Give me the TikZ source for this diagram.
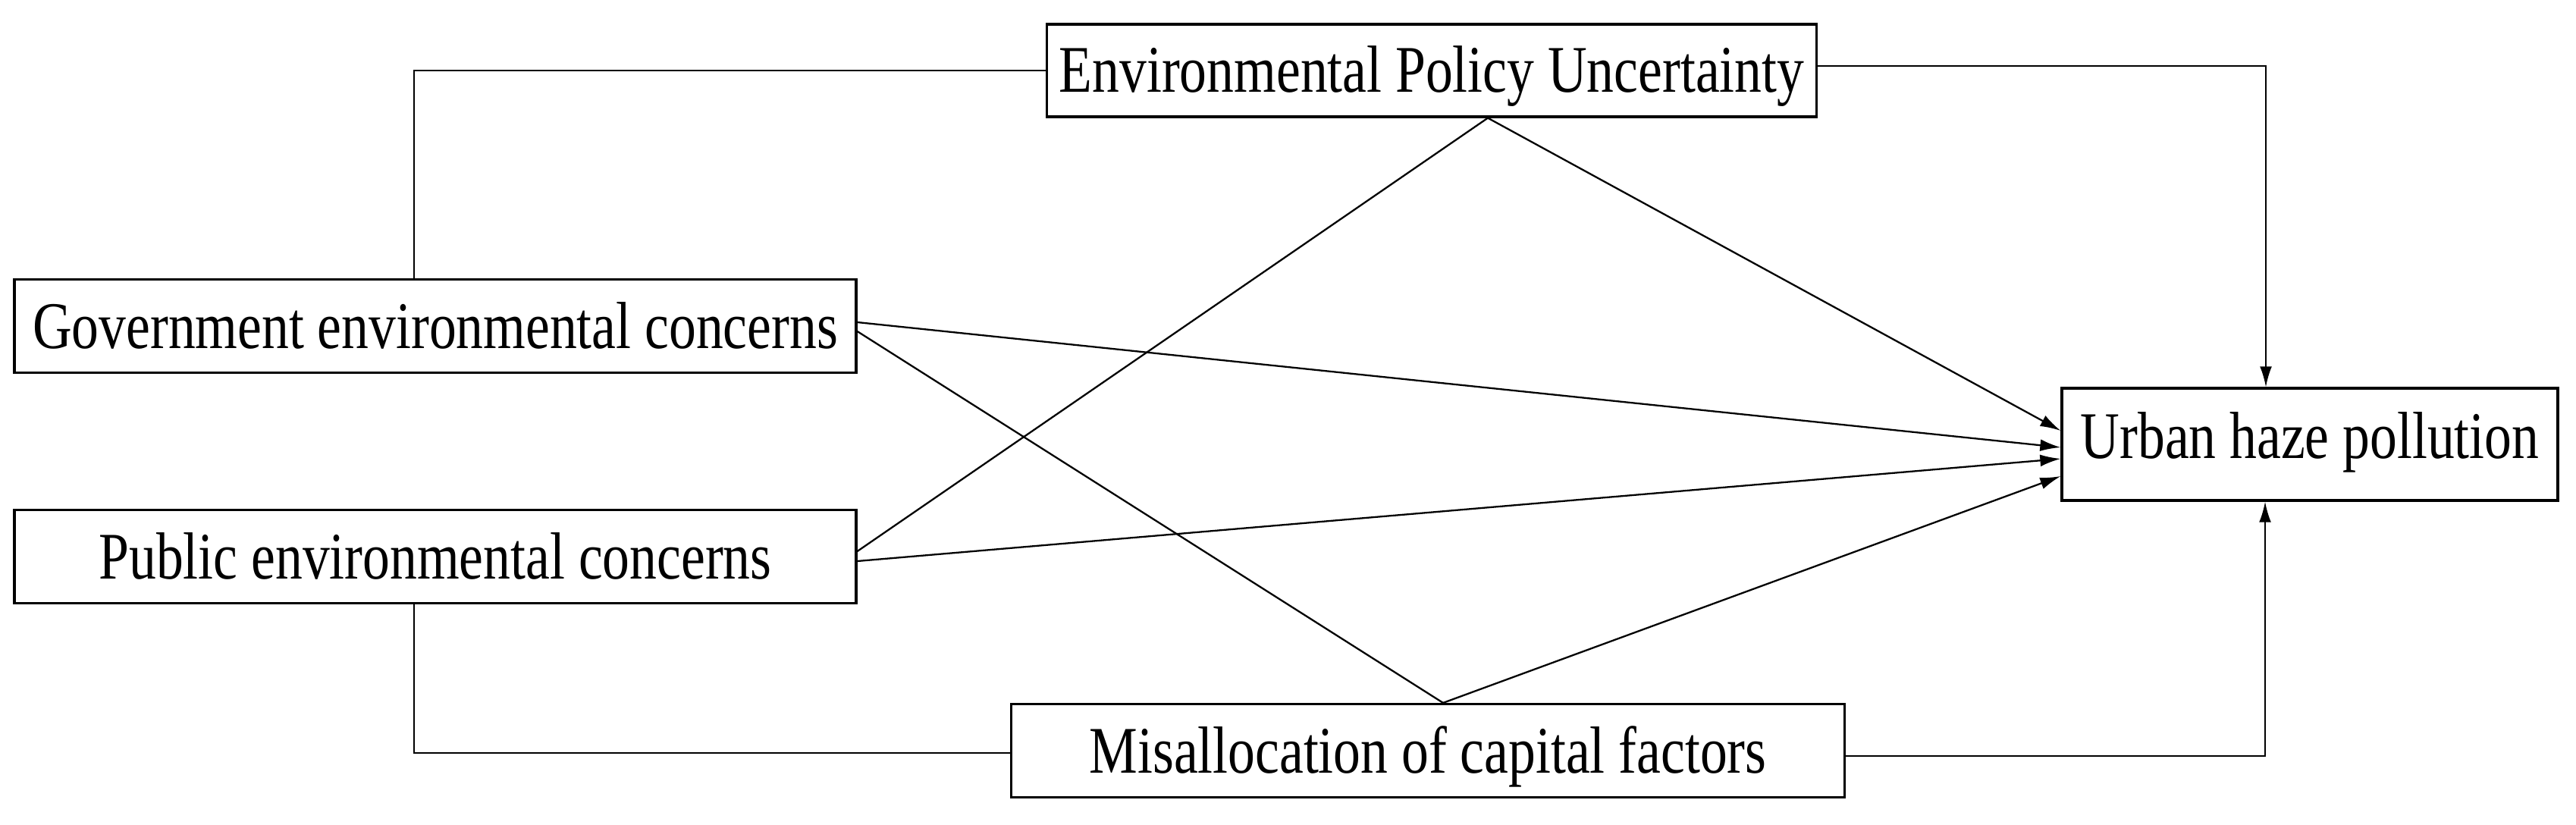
\documentclass[tikz,border=0pt]{standalone}
\usepackage{fontspec}
\setmainfont{Liberation Serif}[FakeStretch=0.815]
\usetikzlibrary{positioning, arrows.meta, calc}

\begin{document}
\begin{tikzpicture}[
    var/.style={draw, line width=0.9pt, inner sep=0pt, align=center, fill=white, font=\fontsize{25}{30}\selectfont, text height=16.5pt, text depth=0pt},
    link/.style={line width=0.65pt},
    conn/.style={line width=0.65pt, -{Latex[length=7.7pt, width=4.5pt]}}
]
    \useasboundingbox (0,0) rectangle (33.97,10.87);

    % Nodes
    \node[var, minimum width=10.15cm, minimum height=1.22cm] (epu) at (18.88, 9.94) {Environmental Policy Uncertainty};
    \node[var, minimum width=11.10cm, minimum height=1.23cm] (gov) at (5.74, 6.57) {Government environmental concerns};
    \node[var, minimum width=11.10cm, minimum height=1.23cm] (pub) at (5.74, 3.53) {Public environmental concerns};
    \node[var, minimum width=10.99cm, minimum height=1.23cm] (mis) at (18.83, 0.97) {Misallocation of capital factors};
    \node[var, minimum width=6.54cm, minimum height=1.48cm, text depth=6.2pt] (haze) at (30.46, 5.01) {Urban haze pollution};

    \coordinate (epuapex) at ($(epu.south)+(0.74,0)$);
    \coordinate (misapex) at ($(mis.north)+(0.20,0)$);

    % Connections
    \draw[link] ($(gov.north)+(-0.28,0)$) |- (epu.west);
    \draw[link] ($(pub.south)+(-0.28,0)$) |- ($(mis.west)+(0,-0.03)$);
    \draw[conn] ($(epu.east)+(0,0.06)$) -| ($(haze.north)+(-0.58,0)$);
    \draw[conn] ($(mis.east)+(0,-0.07)$) -| ($(haze.south)+(-0.59,0)$);

    \draw[conn] ($(gov.east)+(0,0.05)$) -- ($(haze.west)+(0,-0.04)$);
    \draw[link] ($(gov.east)+(0,-0.07)$) -- (misapex);
    \draw[link] ($(pub.east)+(0,0.07)$) -- (epuapex);
    \draw[conn] ($(pub.east)+(0,-0.06)$) -- ($(haze.west)+(0,-0.19)$);
    \draw[conn] (epuapex) -- ($(haze.west)+(0,0.18)$);
    \draw[conn] (misapex) -- ($(haze.west)+(0,-0.42)$);
\end{tikzpicture}
\end{document}
